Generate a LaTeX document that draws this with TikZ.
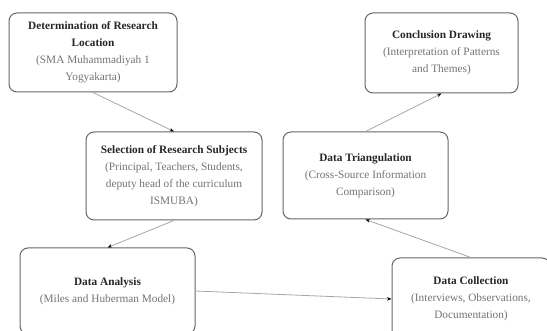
\documentclass[tikz,border=0pt]{standalone}
\usepackage{fontspec}
\setmainfont{Liberation Serif}
\usetikzlibrary{arrows.meta}
\tikzset{
    stagebox/.style={draw=black!60, line width=1pt, rounded corners=8pt, align=center, inner sep=2pt, font=\fontsize{11.3}{17}\selectfont}, % box of one research stage
    flow/.style={draw=black!35, line width=0.8pt, -{Stealth[length=4.5pt, width=3.5pt, black]}} % connector between stages
}
\newcommand{\stagehead}[1]{{\bfseries\color{black!85}#1}}
\newcommand{\stagenote}[1]{{\color{black!55}#1}}

\begin{document}
\begin{tikzpicture}[x=1pt, y=-1pt]

    \useasboundingbox (0,0) rectangle (547,331);
    \clip (0,0) rectangle (547,331);

    \node[stagebox, minimum width=168pt, minimum height=79pt] (loc) at (93,52.5)
        {\stagehead{Determination of Research}\\ \stagehead{Location}\\ \stagenote{(SMA Muhammadiyah 1}\\ \stagenote{Yogyakarta)}};
    \node[stagebox, minimum width=176pt, minimum height=88pt] (subj) at (174,176)
        {\stagehead{Selection of Research Subjects}\\ \stagenote{(Principal, Teachers, Students,}\\ \stagenote{deputy head of the curriculum}\\ \stagenote{ISMUBA)}};
    \node[stagebox, minimum width=175pt, minimum height=86pt] (ana) at (107.5,291)
        {\stagehead{Data Analysis}\\ \stagenote{(Miles and Huberman Model)}};
    \node[stagebox, minimum width=158pt, minimum height=82pt] (coll) at (471,299)
        {\stagehead{Data Collection}\\ \stagenote{(Interviews, Observations,}\\ \stagenote{Documentation)}};
    \node[stagebox, minimum width=165pt, minimum height=87pt] (tri) at (365.5,175.5)
        {\stagehead{Data Triangulation}\\ \stagenote{(Cross-Source Information}\\ \stagenote{Comparison)}};
    \node[stagebox, minimum width=153pt, minimum height=80pt] (concl) at (441.5,53)
        {\stagehead{Conclusion Drawing}\\ \stagenote{(Interpretation of Patterns}\\ \stagenote{and Themes)}};

    \draw[flow] (loc.south) -- (subj.north);
    \draw[flow] (subj.south) -- (ana.north);
    \draw[flow] (ana.east) -- (coll.west);
    \draw[flow] (coll.north) -- (tri.south);
    \draw[flow] (tri.north) -- (concl.south);

\end{tikzpicture}
\end{document}
